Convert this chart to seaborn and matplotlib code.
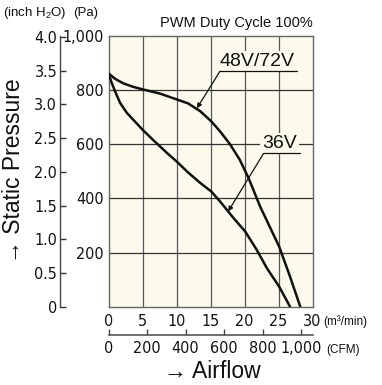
import matplotlib
matplotlib.use("Agg")
import matplotlib.pyplot as plt
from matplotlib import font_manager
from matplotlib.font_manager import FontProperties
from matplotlib.ticker import FixedLocator, FixedFormatter
import pandas as pd
import seaborn as sns

# ---- data -------------------------------------------------------------
flow_4872 = [0, 0.96, 2.18, 3.65, 5.0, 7.6, 10.0, 11.7, 13.5, 15.1, 16.4, 17.9,
             19.3, 20.6, 22.3, 23.7, 25.1, 26.7, 28.2]
pres_4872 = [862, 842, 825, 812, 803, 787, 766, 751, 722, 685, 648, 599,
             543, 475, 370, 296, 222, 111, 0]

flow_36 = [0, 0.47, 0.96, 1.7, 2.7, 5.0, 6.6, 8.6, 10.0, 11.7, 13.5, 15.1,
           16.4, 18.4, 20.1, 21.8, 23.3, 25.1, 26.7]
pres_36 = [862, 827, 796, 753, 716, 654, 615, 568, 537, 496, 457, 426,
           389, 327, 278, 210, 142, 74, 0]

series_names = ["48V/72V", "36V"]

m3_ticks = [0, 5, 10, 15, 20, 25, 30]
pa_ticks = [200, 400, 600, 800, 1000]
pa_labels = ["200", "400", "600", "800", "1,000"]
inch_ticks = [0, 0.5, 1.0, 1.5, 2.0, 2.5, 3.0, 3.5, 4.0]
inch_labels = ["0", "0.5", "1.0", "1.5", "2.0", "2.5", "3.0", "3.5", "4.0"]
cfm_ticks = [0, 200, 400, 600, 800, 1000]
cfm_labels = ["0", "200", "400", "600", "800", "1,000"]

PA_PER_INCH = 249.09
CFM_PER_M3 = 35.3147

# ---- fonts ------------------------------------------------------------
sns.set_style("white")
regular = "Liberation Sans"
plt.rcParams["font.family"] = [regular, "DejaVu Sans"]
plt.rcParams["mathtext.fontset"] = "custom"
plt.rcParams["mathtext.rm"] = regular
plt.rcParams["mathtext.it"] = regular


def pick_narrow_font():
    files = font_manager.findSystemFonts()
    prefs = ["LiberationSansNarrow-Regular", "DejaVuSansCondensed.ttf",
             "Condensed-Regular", "Narrow"]
    for key in prefs:
        for f in files:
            if key in f.split("/")[-1] and "Bold" not in f and "Italic" not in f \
                    and "Oblique" not in f:
                return FontProperties(fname=f)
    return FontProperties(family="DejaVu Sans", stretch="condensed")


NARROW = pick_narrow_font()
NUM_SIZE = 11.5

W, H = 382, 385
fig = plt.figure(figsize=(W / 100, H / 100), dpi=100)
fig.patch.set_facecolor("white")

x0, x1 = 108.5, 312.5
y_top, y_bot = 36.0, 306.7
ax = fig.add_axes([x0 / W, 1 - y_bot / H, (x1 - x0) / W, (y_bot - y_top) / H])
ax.set_facecolor("#FCFAEC")

df = pd.concat([
    pd.DataFrame({"flow": flow_4872, "pressure": pres_4872, "series": series_names[0]}),
    pd.DataFrame({"flow": flow_36, "pressure": pres_36, "series": series_names[1]}),
])
sns.lineplot(data=df, x="flow", y="pressure", hue="series", sort=False,
             palette=["#111111", "#111111"], linewidth=1.8, legend=False, ax=ax,
             zorder=3)

ax.set_xlim(0, 30)
ax.set_ylim(0, 1000)
ax.set_xlabel("")
ax.set_ylabel("")

# grid
for v in range(5, 30, 5):
    ax.axvline(v, color="#555555", lw=0.9, zorder=1)
for h in range(200, 1000, 200):
    ax.axhline(h, color="#333333", lw=0.9, zorder=1)
for s in ax.spines.values():
    s.set_color("#666666")
    s.set_linewidth(1.0)


def narrow_labels(labels):
    for lab in labels:
        lab.set_fontproperties(NARROW)
        lab.set_fontsize(NUM_SIZE)
        lab.set_color("#111111")


# main x axis (m3/min)
ax.xaxis.set_major_locator(FixedLocator(m3_ticks))
ax.xaxis.set_major_formatter(FixedFormatter([str(t) for t in m3_ticks]))
ax.tick_params(axis="x", length=0, pad=5)
narrow_labels(ax.get_xticklabels())

# main y axis (Pa)
ax.yaxis.set_major_locator(FixedLocator(pa_ticks))
ax.yaxis.set_major_formatter(FixedFormatter(pa_labels))
ax.tick_params(axis="y", length=3.0, width=1.0, color="#333333", pad=0.5,
               direction="out")
narrow_labels(ax.get_yticklabels())

# inch H2O axis
inch_ax = ax.secondary_yaxis((60 - x0) / (x1 - x0),
                             functions=(lambda p: p / PA_PER_INCH,
                                        lambda i: i * PA_PER_INCH))
inch_ax.yaxis.set_major_locator(FixedLocator(inch_ticks))
inch_ax.yaxis.set_major_formatter(FixedFormatter(inch_labels))
inch_ax.tick_params(axis="y", direction="in", length=4, width=1.0, color="#333333",
                    pad=2)
inch_ax.spines["left"].set_color("#444444")
inch_ax.spines["left"].set_linewidth(1.0)
narrow_labels(inch_ax.get_yticklabels())

# CFM axis
cfm_ax = ax.secondary_xaxis(-(335 - y_bot) / (y_bot - y_top),
                            functions=(lambda m: m * CFM_PER_M3,
                                       lambda c: c / CFM_PER_M3))
cfm_ax.xaxis.set_major_locator(FixedLocator(cfm_ticks))
cfm_ax.xaxis.set_major_formatter(FixedFormatter(cfm_labels))
cfm_ax.tick_params(axis="x", direction="in", length=4, width=1.0, color="#444444",
                   pad=4)
cfm_ax.spines["bottom"].set_color("#555555")
cfm_ax.spines["bottom"].set_linewidth(1.2)
narrow_labels(cfm_ax.get_xticklabels())

# curve labels with leader arrows
bg = "#FCFAEC"
label_specs = [
    # text, text centre, underline left/right x, underline y, arrow tip
    ("48V/72V", (21.9, 905), 16.4, 27.7, 870, (13.0, 733)),
    ("36V", (25.1, 603), 22.8, 28.1, 566, (17.6, 352)),
]
for text, (tx, ty), ux0, ux1, uy, tip in label_specs:
    ax.text(tx, ty, text, ha="center", va="center", fontsize=14, color="#111111",
            zorder=5, bbox=dict(facecolor=bg, edgecolor="none", pad=1.5))
    ax.plot([ux0, ux1], [uy, uy], color="#111111", lw=0.9, zorder=6)
    ax.annotate("", xy=tip, xytext=(ux0, uy), zorder=6,
                arrowprops=dict(arrowstyle="-|>", color="#111111", lw=0.9,
                                mutation_scale=7, shrinkA=0, shrinkB=0))


# surrounding text
def ftext(px, py, s, **kw):
    fig.text(px / W, 1 - py / H, s, **kw)


ftext(312.5, 23, "PWM Duty Cycle 100%", ha="right", va="center", fontsize=10.5,
      color="#111111")
ftext(3, 13, "(inch H$_2$O)", ha="left", va="center", fontsize=9.5, color="#111111")
ftext(73, 13, "(Pa)", ha="left", va="center", fontsize=9.5, color="#111111")
ftext(323, 322, "(m³/min)", ha="left", va="center", fontsize=8.5, color="#111111")
ftext(326, 350, "(CFM)", ha="left", va="center", fontsize=8.5, color="#111111")
ftext(212, 371, "→ Airflow", ha="center", va="center", fontsize=16.5,
      color="#111111")
ftext(14, 171, "→ Static Pressure", ha="center", va="center", rotation=90,
      fontsize=16.5, color="#111111")

fig.savefig("out.png", dpi=100, facecolor="white")
